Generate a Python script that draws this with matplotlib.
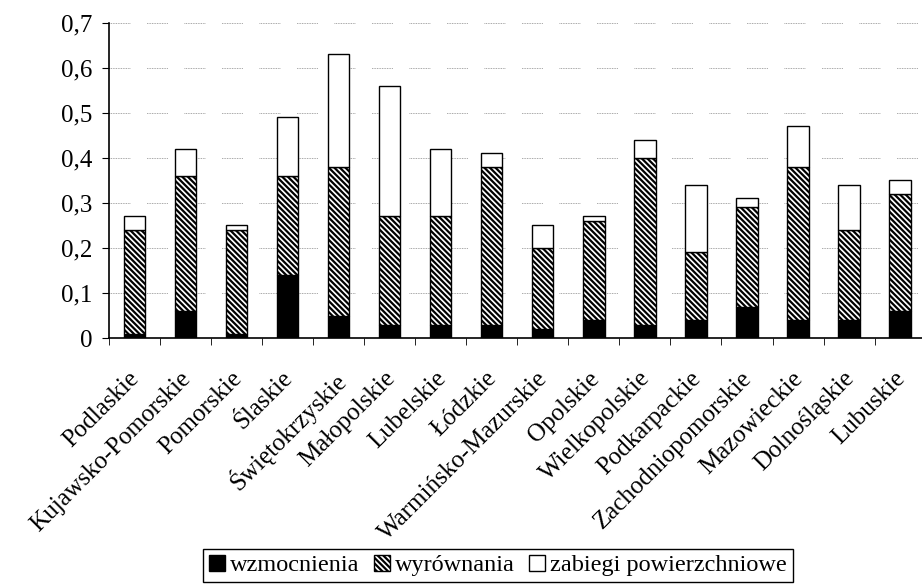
import matplotlib.pyplot as plt
import matplotlib.transforms as mtransforms
import numpy as np

plt.rcParams['font.family'] = ['Liberation Serif', 'DejaVu Serif']
plt.rcParams['hatch.linewidth'] = 1.6

regions = ['Podlaskie', 'Kujawsko-Pomorskie', 'Pomorskie', 'Ślaskie', 'Świętokrzyskie',
           'Małopolskie', 'Lubelskie', 'Łódzkie', 'Warmińsko-Mazurskie', 'Opolskie',
           'Wielkopolskie', 'Podkarpackie', 'Zachodniopomorskie', 'Mazowieckie',
           'Dolnośląskie', 'Lubuskie']
wzmocnienia = [0.01, 0.06, 0.01, 0.14, 0.05, 0.03, 0.03, 0.03, 0.02, 0.04, 0.03, 0.04, 0.07, 0.04, 0.04, 0.06]
wyrownania = [0.23, 0.30, 0.23, 0.22, 0.33, 0.24, 0.24, 0.35, 0.18, 0.22, 0.37, 0.15, 0.22, 0.34, 0.20, 0.26]
zabiegi = [0.03, 0.06, 0.01, 0.13, 0.25, 0.29, 0.15, 0.03, 0.05, 0.01, 0.04, 0.15, 0.02, 0.09, 0.10, 0.03]

x = np.arange(len(regions))
a = np.array(wzmocnienia)
b = np.array(wyrownania)
c = np.array(zabiegi)

fig = plt.figure(figsize=(9.22, 5.86), dpi=100)
ax = fig.add_axes([0.118, 0.4232, 0.886, 0.5376])

w = 0.42
ax.bar(x, a, w, color='black', edgecolor='black', linewidth=1, label='wzmocnienia', zorder=3)
ax.bar(x, b, w, bottom=a, color='white', edgecolor='black', hatch='\\\\\\\\\\\\', linewidth=1,
       label='wyrównania', zorder=3)
ax.bar(x, c, w, bottom=a + b, color='white', edgecolor='black', linewidth=1,
       label='zabiegi powierzchniowe', zorder=3)

ax.set_xlim(-0.5, len(regions) - 0.5)
ax.set_ylim(0, 0.7)
yt = np.arange(0, 0.71, 0.1)
ax.set_yticks(yt)
ax.set_yticklabels(['0' if v == 0 else f'{v:.1f}'.replace('.', ',') for v in yt], fontsize=18)
# dotted segments with gaps, like the original grid
ax.yaxis.grid(True, linestyle=(0, (1, 1) * 12 + (1, 20)), color='#8a8a8a', linewidth=0.6, zorder=0)

ax.set_xticks(x)
ax.set_xticklabels(regions, rotation=45, ha='right', rotation_mode='anchor', fontsize=18)
ax.set_xticks(np.arange(-0.5, len(regions)), minor=True)
ax.tick_params(axis='x', which='major', length=0, pad=21)
ax.tick_params(axis='x', which='minor', length=5, direction='out', color='black')
ax.tick_params(axis='y', length=5, direction='out', color='black', pad=7)
shift = mtransforms.ScaledTranslation(-0.06, 0, fig.dpi_scale_trans)
for lab in ax.get_xticklabels():
    lab.set_transform(lab.get_transform() + shift)

ax.spines['top'].set_visible(False)
ax.spines['right'].set_visible(False)
ax.spines['left'].set_linewidth(1.2)
ax.spines['bottom'].set_linewidth(1.2)

leg = fig.legend(loc='center', bbox_to_anchor=(0.540, 0.035), ncol=3, fontsize=17.5,
                 frameon=True, fancybox=False, edgecolor='black', framealpha=1,
                 handlelength=0.65, handleheight=0.65, handletextpad=0.2, columnspacing=0.6,
                 borderpad=0.25, borderaxespad=0)
leg.get_frame().set_linewidth(1)

fig.savefig('out.png', dpi=100)
